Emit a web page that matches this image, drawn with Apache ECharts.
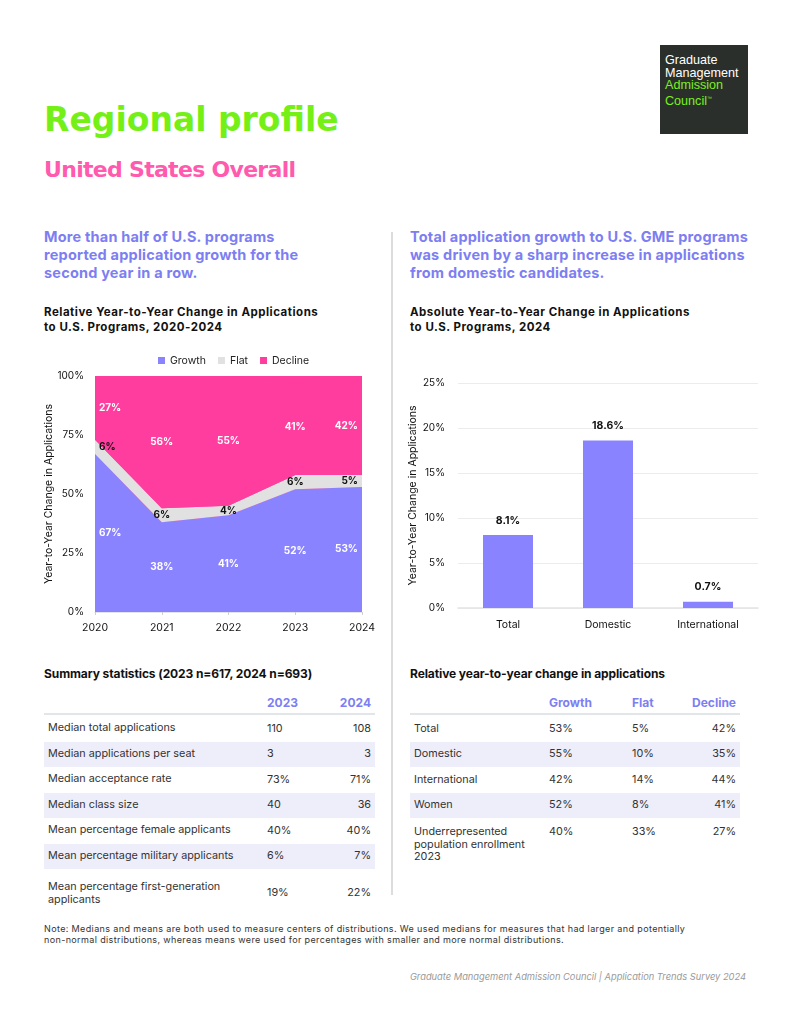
<!DOCTYPE html>
<html>
<head>
<meta charset="utf-8">
<script src="https://cdn.jsdelivr.net/npm/echarts@6/dist/echarts.min.js"></script>
<style>
  html, body { margin:0; padding:0; background:#fff; }
  #page { position:relative; width:791px; height:1024px; overflow:hidden; font-family:'Inter','Noto Sans',sans-serif; color:#222; }
  .abs { position:absolute; white-space:nowrap; }
  .h1 { left:44px; top:103px; font-family:'DejaVu Sans',sans-serif; font-size:33px; line-height:1; font-weight:700; color:#74F016; }
  .h2 { left:44px; top:159px; font-family:'DejaVu Sans',sans-serif; font-size:22px; line-height:1; font-weight:700; color:#FF5AAE; letter-spacing:-0.7px; }
  .logo { left:660px; top:45px; width:88px; height:89px; background:#2a2f2c; }
  .logo div { position:absolute; left:5px; font-family:'Liberation Sans',Arial,sans-serif; font-size:12.6px; line-height:12.5px; }
  .lead { font-size:14.5px; font-weight:700; color:#7D7EF2; line-height:18px; letter-spacing:0.2px; }
  .sub { font-size:11.5px; font-weight:700; color:#111; line-height:14.5px; letter-spacing:0.5px; }
  .tt { font-size:12px; font-weight:700; color:#111; letter-spacing:-0.1px; }
  .cell { position:absolute; font-size:10.8px; color:#333; line-height:12.5px; white-space:nowrap; }
  .hd { position:absolute; font-size:12px; font-weight:700; color:#7D7EF2; white-space:nowrap; }
  .band { position:absolute; background:#EEEEFB; }
  .rule { position:absolute; height:2px; background:#E3E6E8; }
  .note { left:44px; top:923px; font-size:9px; color:#333; line-height:11px; letter-spacing:0.37px; }
  .foot { right:45px; top:971px; font-size:9.3px; color:#9a9a9a; font-style:italic; }
</style>
</head>
<body>
<div id="page">
  <div class="abs h1">Regional profile</div>
  <div class="abs h2">United States Overall</div>
  <div class="abs logo">
    <div style="top:9px;color:#fff">Graduate</div>
    <div style="top:21.5px;color:#fff">Management</div>
    <div style="top:34px;color:#7CF01E">Admission</div>
    <div style="top:46.5px;color:#7CF01E">Council<sup style="font-size:5px">™</sup></div>
  </div>

  <div class="abs lead" style="left:44px;top:228px">More than half of U.S. programs<br>reported application growth for the<br>second year in a row.</div>
  <div class="abs lead" style="left:410px;top:228px">Total application growth to U.S. GME programs<br>was driven by a sharp increase in applications<br>from domestic candidates.</div>

  <div style="position:absolute;left:391px;top:232px;width:1.5px;height:663px;background:#dcdcdc"></div>

  <div class="abs sub" style="left:44px;top:305px">Relative Year-to-Year Change in Applications<br>to U.S. Programs, 2020-2024</div>
  <div class="abs sub" style="left:410px;top:305px">Absolute Year-to-Year Change in Applications<br>to U.S. Programs, 2024</div>

  <div id="c1" style="position:absolute;left:30px;top:340px;width:350px;height:300px"></div>
  <div id="c2" style="position:absolute;left:400px;top:370px;width:370px;height:270px"></div>

  <div class="abs tt" style="left:44px;top:666px">Summary statistics (2023 n=617, 2024 n=693)</div>
  <div class="abs tt" style="left:410px;top:666px">Relative year-to-year change in applications</div>

  <div class="abs note">Note: Medians and means are both used to measure centers of distributions. We used medians for measures that had larger and potentially<br>non-normal distributions, whereas means were used for percentages with smaller and more normal distributions.</div>
  <div class="abs foot">Graduate Management Admission Council | Application Trends Survey 2024</div>
</div>

<script>
// ---------- Data ----------
const years = ['2020', '2021', '2022', '2023', '2024'];
const growthShare = [67, 38, 41, 52, 53];
const flatShare = [6, 6, 4, 6, 5];
const declineShare = [27, 56, 55, 41, 42];
const shareTicks = [0, 25, 50, 75, 100];

const absCategories = ['Total', 'Domestic', 'International'];
const absChange = [8.1, 18.6, 0.7];

const summaryHeaders = ['2023', '2024'];
const summaryLabels = ['Median total applications', 'Median applications per seat', 'Median acceptance rate',
  'Median class size', 'Mean percentage female applicants', 'Mean percentage military applicants',
  'Mean percentage first-generation<br>applicants'];
const summary2023 = ['110', '3', '73%', '40', '40%', '6%', '19%'];
const summary2024 = ['108', '3', '71%', '36', '40%', '7%', '22%'];

const relHeaders = ['Growth', 'Flat', 'Decline'];
const relLabels = ['Total', 'Domestic', 'International', 'Women', 'Underrepresented<br>population enrollment<br>2023'];
const relGrowth = ['53%', '55%', '42%', '52%', '40%'];
const relFlat = ['5%', '10%', '14%', '8%', '33%'];
const relDecline = ['42%', '35%', '44%', '41%', '27%'];

// ---------- Colors ----------
const C_GROWTH = '#8A83FF', C_FLAT = '#E1E1E1', C_DECLINE = '#FF3D9E';
const FONT = 'Inter';

// ---------- Chart 1: stacked area ----------
const c1 = echarts.init(document.getElementById('c1'));
function areaSeries(name, data, color) {
  return { name, type: 'line', stack: 'share', data, symbol: 'none', smooth: false,
    lineStyle: { width: 0, color }, itemStyle: { color }, areaStyle: { color, opacity: 1 }, silent: true, z: 2 };
}
function labelSeries(name, data, color) {
  return { name: name + ' label', type: 'bar', stack: 'lbl', barWidth: 1, silent: true, z: 5,
    itemStyle: { color: 'rgba(0,0,0,0)' },
    label: { show: true, position: 'inside', formatter: '{c}%', color, fontSize: 10, fontWeight: 'bold', fontFamily: FONT },
    data: data.map((v, i) => ({ value: v,
      label: i === 0 ? { align: 'left', offset: [4, 0] } : (i === data.length - 1 ? { align: 'right', offset: [-4, 0] } : {}) })) };
}
c1.setOption({
  animation: false,
  textStyle: { fontFamily: FONT },
  legend: { data: ['Growth', 'Flat', 'Decline'], top: 10, left: 123, icon: 'rect', itemWidth: 7, itemHeight: 7, itemGap: 12,
    textStyle: { fontSize: 10.5, color: '#222', fontFamily: FONT }, selectedMode: false },
  grid: { left: 65, right: 18, top: 36, bottom: 28, show: true, backgroundColor: C_DECLINE, borderWidth: 0, outerBoundsMode: 'none' },
  xAxis: { type: 'category', data: years, boundaryGap: false,
    axisLine: { show: true, lineStyle: { color: '#e3e3e3' } }, axisTick: { show: true, length: 3, lineStyle: { color: '#cfcfcf' } },
    axisLabel: { color: '#111', fontSize: 10.5, margin: 10, fontFamily: FONT } },
  yAxis: { type: 'value', min: shareTicks[0], max: shareTicks[shareTicks.length - 1], interval: 25,
    name: 'Year-to-Year Change in Applications', nameLocation: 'middle', nameRotate: 90, nameGap: 41, nameMoveOverlap: false,
    nameTextStyle: { fontSize: 10.5, color: '#111', fontFamily: FONT },
    axisLine: { show: false }, axisTick: { show: false }, splitLine: { show: false },
    axisLabel: { formatter: '{value}%', color: '#111', fontSize: 10, margin: 11, fontFamily: FONT } },
  series: [
    areaSeries('Growth', growthShare, C_GROWTH),
    areaSeries('Flat', flatShare, C_FLAT),
    areaSeries('Decline', declineShare, C_DECLINE),
    labelSeries('Growth', growthShare, '#fff'),
    labelSeries('Flat', flatShare, '#111'),
    labelSeries('Decline', declineShare, '#fff')
  ]
});

// ---------- Chart 2: bars ----------
const c2 = echarts.init(document.getElementById('c2'));
c2.setOption({
  animation: false,
  textStyle: { fontFamily: FONT },
  grid: { left: 58, right: 12, top: 13, bottom: 32, outerBoundsMode: 'none', containLabel: false },
  xAxis: { type: 'category', data: absCategories,
    axisLine: { show: true, lineStyle: { color: '#e3e3e3', width: 1.5 } }, axisTick: { show: false },
    axisLabel: { color: '#111', fontSize: 10.5, margin: 11, fontFamily: FONT } },
  yAxis: { type: 'value', min: 0, max: 25, interval: 5,
    name: 'Year-to-Year Change in Applications', nameLocation: 'middle', nameRotate: 90, nameGap: 40, nameMoveOverlap: false,
    nameTextStyle: { fontSize: 10.5, color: '#111', fontFamily: FONT },
    axisLine: { show: false }, axisTick: { show: false },
    splitLine: { show: true, lineStyle: { color: '#ececec', width: 1 } },
    axisLabel: { formatter: '{value}%', color: '#111', fontSize: 10, margin: 13, fontFamily: FONT } },
  series: [{ type: 'bar', data: absChange, barWidth: 50, itemStyle: { color: C_GROWTH },
    label: { show: true, position: 'top', distance: 9, formatter: '{c}%', color: '#111', fontSize: 10.5, fontWeight: 'bold', fontFamily: FONT } }]
});

// ---------- Tables ----------
function el(parent, cls, style, html) {
  const d = document.createElement('div'); d.className = cls; Object.assign(d.style, style); d.innerHTML = html; parent.appendChild(d); return d;
}
const page = document.getElementById('page');
// Summary table
const rowTops1 = [716, 741.5, 767, 792.5, 818, 843.5, 869];
const rowH1 = [25.5, 25.5, 25.5, 25.5, 25.5, 25.5, 48];
el(page, 'hd', { left: '267px', top: '695px' }, summaryHeaders[0]);
el(page, 'hd', { left: '300px', top: '695px', width: '71px', textAlign: 'right' }, summaryHeaders[1]);
el(page, 'rule', { left: '44px', top: '713px', width: '331px' }, '');
summaryLabels.forEach((lab, i) => {
  if (i % 2 === 1) el(page, 'band', { left: '44px', top: rowTops1[i] + 'px', width: '331px', height: rowH1[i] + 'px' }, '');
  const lines = lab.split('<br>').length;
  const ty = rowTops1[i] + rowH1[i] / 2 - lines * 13.5 / 2;
  const vy = rowTops1[i] + rowH1[i] / 2 - 12.5 / 2;
  el(page, 'cell', { left: '48px', top: ty + 'px', lineHeight: lines > 1 ? '13.5px' : '12.5px' }, lab);
  el(page, 'cell', { left: '267px', top: vy + 'px' }, summary2023[i]);
  el(page, 'cell', { left: '300px', top: vy + 'px', width: '71px', textAlign: 'right' }, summary2024[i]);
});
// Relative table
const rowTops2 = [716, 741.5, 767, 792.5, 818];
el(page, 'hd', { left: '549px', top: '695px' }, relHeaders[0]);
el(page, 'hd', { left: '632px', top: '695px' }, relHeaders[1]);
el(page, 'hd', { left: '660px', top: '695px', width: '76px', textAlign: 'right' }, relHeaders[2]);
el(page, 'rule', { left: '410px', top: '713px', width: '330px' }, '');
relLabels.forEach((lab, i) => {
  if (i % 2 === 1) el(page, 'band', { left: '410px', top: rowTops2[i] + 'px', width: '330px', height: '25.5px' }, '');
  const ty = rowTops2[i] + 25.5 / 2 - 12.5 / 2 + (i === relLabels.length - 1 ? 1.5 : 0);
  el(page, 'cell', { left: '414px', top: ty + 'px' }, lab);
  el(page, 'cell', { left: '549px', top: ty + 'px' }, relGrowth[i]);
  el(page, 'cell', { left: '632px', top: ty + 'px' }, relFlat[i]);
  el(page, 'cell', { left: '660px', top: ty + 'px', width: '76px', textAlign: 'right' }, relDecline[i]);
});
</script>
</body>
</html>
